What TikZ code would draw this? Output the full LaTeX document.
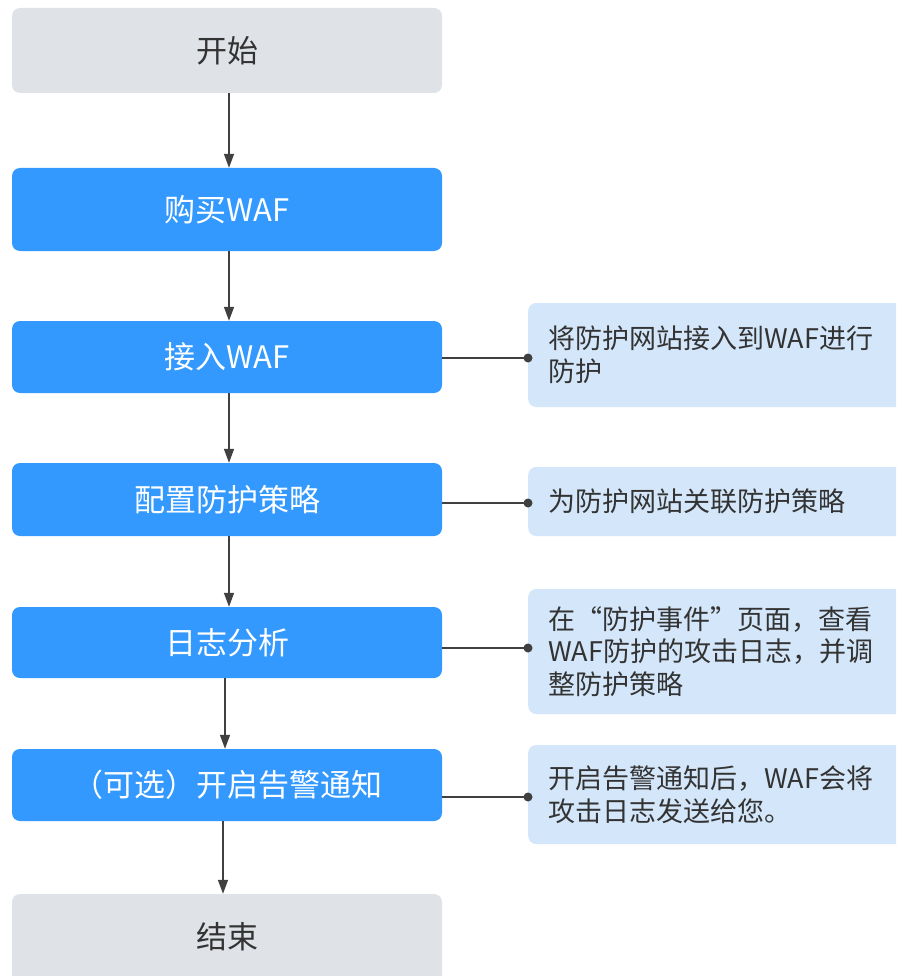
\documentclass[tikz,border=0pt]{standalone}
\usepackage{fontspec}
\newfontfamily\cjk{Noto Sans CJK SC}
\usetikzlibrary{arrows.meta}
\definecolor{grayfill}{HTML}{DFE3E8}
\definecolor{bluefill}{HTML}{3399FF}
\definecolor{notefill}{HTML}{D4E6F9}
\definecolor{ink}{HTML}{333333}
\definecolor{linec}{HTML}{404040}
\begin{document}
\begin{tikzpicture}[x=1pt,y=-1pt,
  stepbox/.style={rounded corners=8pt,minimum width=430pt,inner sep=0pt,
    font=\cjk\fontsize{31}{36}\selectfont},
  greybox/.style={stepbox,fill=grayfill,text=ink},
  bluebox/.style={stepbox,fill=bluefill,text=white},
  notebox/.style={rounded corners=8pt,fill=notefill,text=ink,anchor=west,
    text width=338pt,align=left,inner xsep=20pt,inner ysep=0pt,
    font=\cjk\fontsize{27}{32.5}\selectfont},
  flow/.style={draw=linec,line width=1.5pt,-{Triangle[width=10pt,length=14pt]}},
  link/.style={draw=linec,line width=1.5pt},
  dot/.style={fill=linec,draw=none}
]
\clip (0,0) rectangle (896,976);
\fill[white] (0,0) rectangle (896,976);

\node[greybox,minimum height=85pt] (start) at (227,50.5) {开始};
\node[bluebox,minimum height=83pt] (buy) at (227,209.5) {购买WAF};
\node[bluebox,minimum height=72pt] (acc) at (227,357) {接入WAF};
\node[bluebox,minimum height=73pt] (cfg) at (227,499.5) {配置防护策略};
\node[bluebox,minimum height=71pt] (log) at (227,642.5) {日志分析};
\node[bluebox,minimum height=72pt] (opt) at (227,785) {（可选）开启告警通知};
\node[greybox,minimum height=100pt] (end) at (227,944) {\raisebox{-4pt}[0pt][0pt]{结束}};

\node[notebox,minimum height=104pt] (r1) at (528,355) {将防护网站接入到WAF进行\\防护};
\node[notebox,minimum height=69pt] (r2) at (528,501.5) {为防护网站关联防护策略};
\node[notebox,minimum height=125pt] (r3) at (528,651.5) {在“防护事件”页面，查看\\WAF防护的攻击日志，并调\\整防护策略};
\node[notebox,minimum height=99pt] (r4) at (528,794.5) {开启告警通知后，WAF会将\\攻击日志发送给您。};

\draw[flow] ([xshift=2pt]start.south) -- ([xshift=2pt]buy.north);
\draw[flow] ([xshift=2pt]buy.south) -- ([xshift=2pt]acc.north);
\draw[flow] ([xshift=2pt]acc.south) -- ([xshift=2pt]cfg.north);
\draw[flow] ([xshift=2pt]cfg.south) -- ([xshift=2pt]log.north);
\draw[flow] ([xshift=-2pt]log.south) -- ([xshift=-2pt]opt.north);
\draw[flow] ([xshift=-4pt]opt.south) -- ([xshift=-4pt]end.north);

\draw[link] ([yshift=-1pt]acc.east) -- ([yshift=-1pt]acc.east -| r1.west);
\fill[dot] ([yshift=-1pt]acc.east -| r1.west) circle (4.5pt);
\draw[link] ([yshift=-3.5pt]cfg.east) -- ([yshift=-3.5pt]cfg.east -| r2.west);
\fill[dot] ([yshift=-3.5pt]cfg.east -| r2.west) circle (4.5pt);
\draw[link] ([yshift=-5.5pt]log.east) -- ([yshift=-5.5pt]log.east -| r3.west);
\fill[dot] ([yshift=-5.5pt]log.east -| r3.west) circle (4.5pt);
\draw[link] ([yshift=-12pt]opt.east) -- ([yshift=-12pt]opt.east -| r4.west);
\fill[dot] ([yshift=-12pt]opt.east -| r4.west) circle (4.5pt);
\end{tikzpicture}
\end{document}
